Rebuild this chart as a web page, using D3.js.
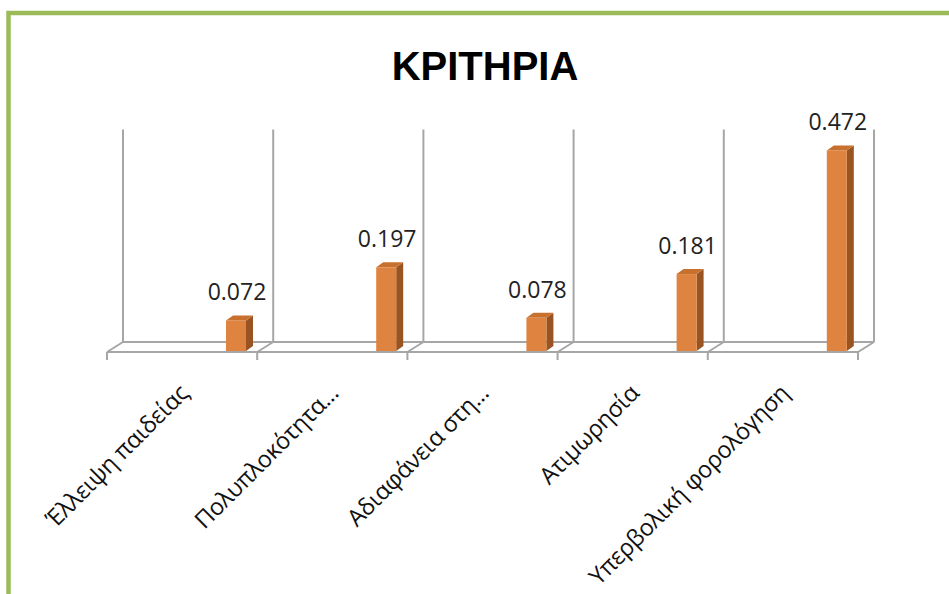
<!DOCTYPE html>
<html>
<head>
<meta charset="utf-8">
<script src="https://cdn.jsdelivr.net/npm/d3@7"></script>
<style>
  html, body { margin: 0; padding: 0; background: #fff; }
  svg { display: block; }
</style>
</head>
<body>
<svg id="chart" width="949" height="594"></svg>
<script>
// Criteria and their weights
const categories = ["Έλλειψη παιδείας", "Πολυπλοκότητα...", "Αδιαφάνεια στη...", "Ατιμωρησία", "Υπερβολική φορολόγηση"];
const values = [0.072, 0.197, 0.078, 0.181, 0.472];
const valueLabels = ["0.072", "0.197", "0.078", "0.181", "0.472"];
const chartTitle = "ΚΡΙΤΗΡΙΑ";
const axisMax = 0.5;

const svg = d3.select("#chart");
const W = 949, H = 594;
const titleFont = "'Liberation Sans', Arial, sans-serif";
const font = "'Open Sans', 'Noto Sans', sans-serif";

// 3D geometry: back plane offset from front plane
const depthX = 16, depthY = -10;
const floorY = 352;          // front edge of floor
const baseY = 351;           // bar base
const grey = "#a6a6a6";

// frame
svg.append("rect")
  .attr("x", 8.5).attr("y", 13)
  .attr("width", W + 20).attr("height", H + 20)
  .attr("fill", "none")
  .attr("stroke", "#9bbb59")
  .attr("stroke-width", 4.5);

// title
svg.append("text")
  .attr("x", 485).attr("y", 80)
  .attr("text-anchor", "middle")
  .attr("font-family", titleFont)
  .attr("font-weight", "bold")
  .attr("font-size", 40)
  .attr("fill", "#000")
  .text(chartTitle);

const x = d3.scaleBand().domain(categories).range([107, 858]).padding(0);
const y = d3.scaleLinear().domain([0, axisMax]).range([baseY, baseY - axisMax * 425]);

const grid = svg.append("g")
  .attr("stroke", grey)
  .attr("stroke-width", 2)
  .attr("fill", "none");

const bounds = categories.map(c => x(c)).concat([x.range()[1]]);

// back wall verticals
bounds.forEach(bx => {
  grid.append("line")
    .attr("x1", bx + depthX).attr("x2", bx + depthX)
    .attr("y1", y(axisMax) + depthY + 1).attr("y2", floorY + depthY);
});
// floor back edge and front edge
grid.append("line")
  .attr("x1", bounds[0] + depthX).attr("x2", bounds[bounds.length - 1] + depthX)
  .attr("y1", floorY + depthY).attr("y2", floorY + depthY);
grid.append("line")
  .attr("x1", bounds[0]).attr("x2", bounds[bounds.length - 1])
  .attr("y1", floorY).attr("y2", floorY);
// floor diagonals and ticks
bounds.forEach(bx => {
  grid.append("line")
    .attr("x1", bx).attr("x2", bx + depthX)
    .attr("y1", floorY).attr("y2", floorY + depthY);
  grid.append("line")
    .attr("x1", bx).attr("x2", bx)
    .attr("y1", floorY).attr("y2", floorY + 8);
});

// bars
const barW = 20, sideW = 7, topH = 5, barOff = 119;
const bars = svg.append("g");
categories.forEach((c, i) => {
  const bx = x(c) + barOff;
  const ty = y(values[i]);
  // side face
  bars.append("path")
    .attr("d", `M${bx + barW},${ty} L${bx + barW + sideW},${ty - topH} L${bx + barW + sideW},${baseY - topH} L${bx + barW},${baseY} Z`)
    .attr("fill", "#9a5422");
  // top face
  bars.append("path")
    .attr("d", `M${bx},${ty} L${bx + sideW},${ty - topH} L${bx + barW + sideW},${ty - topH} L${bx + barW},${ty} Z`)
    .attr("fill", "#c8712f");
  // front face
  bars.append("rect")
    .attr("x", bx).attr("y", ty)
    .attr("width", barW).attr("height", baseY - ty)
    .attr("fill", "#df8440");
  // value label
  svg.append("text")
    .attr("x", bx + 11).attr("y", ty - 20)
    .attr("text-anchor", "middle")
    .attr("font-family", font)
    .attr("font-size", 23)
    .attr("fill", "#222")
    .text(valueLabels[i]);
});

// category labels rotated
categories.forEach(c => {
  const cx = x(c) + x.bandwidth() / 2;
  svg.append("text")
    .attr("transform", `translate(${cx - 4},${383}) rotate(-45)`)
    .attr("text-anchor", "end")
    .attr("dy", "0.7em")
    .attr("font-family", font)
    .attr("font-size", 23.5)
    .attr("letter-spacing", -0.3)
    .attr("fill", "#111")
    .text(c);
});
</script>
</body>
</html>
